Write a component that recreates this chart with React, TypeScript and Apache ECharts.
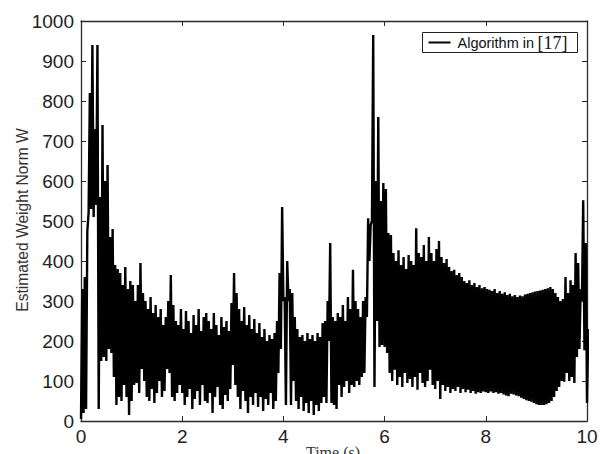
import React, { useEffect, useRef } from "react";
import * as echarts from "echarts";

// Sampling step of the trace (seconds). Each step holds one trough then one crest.
const STEP = 0.05;

// Troughs (at t = i * STEP)
const lows = [
  5, 20, 30, 520, 530, 510, 540, 30, 150, 160,
  150, 180, 170, 110, 40, 60, 50, 90, 60, 15,
  50, 90, 95, 70, 130, 100, 60, 50, 80, 45,
  70, 100, 60, 75, 130, 120, 60, 50, 70, 90,
  70, 40, 60, 80, 30, 55, 75, 40, 90, 50,
  45, 70, 20, 60, 85, 40, 30, 65, 50, 80,
  140, 90, 60, 30, 75, 50, 20, 60, 40, 70,
  35, 60, 25, 55, 40, 70, 30, 50, 120, 180,
  300, 40, 300, 40, 100, 50, 30, 60, 25, 45,
  20, 50, 15, 40, 25, 45, 60, 45, 200, 45,
  40, 30, 90, 60, 85, 100, 70, 90, 85, 100,
  90, 110, 120, 260, 400, 500, 85, 250, 185, 190,
  185, 170, 120, 100, 128, 90, 110, 85, 120, 95,
  105, 85, 110, 78, 120, 95, 85, 100, 128, 90,
  80, 100, 55, 90, 75, 85, 70, 80, 75, 85,
  70, 80, 72, 78, 70, 75, 68, 72, 70, 74,
  72, 70, 74, 70, 72, 68, 70, 66, 64, 62,
  68, 66, 64, 62, 58, 55, 52, 50, 48, 45,
  42, 40, 40, 40, 42, 45, 50, 60, 75, 85,
  100, 98, 120, 100, 110, 95, 160, 180, 300, 177,
  45,
];

// Crests (at t = i * STEP + STEP / 2)
const highs = [
  330, 360, 475, 820, 940, 730, 940, 560, 740, 600,
  640, 460, 480, 390, 380, 370, 340, 385, 330, 350,
  340, 300, 340, 395, 320, 300, 280, 310, 270, 290,
  260, 280, 240, 260, 300, 365, 290, 250, 240, 280,
  230, 275, 250, 220, 265, 240, 280, 225, 260, 270,
  250, 230, 270, 240, 215, 260, 235, 250, 225, 295,
  370, 320, 280, 250, 285, 240, 265, 230, 255, 220,
  245, 210, 230, 200, 215, 205, 220, 250, 370, 535,
  310, 400, 330, 320, 260, 230, 210, 215, 200, 220,
  205, 215, 200, 220, 210, 245, 250, 300, 445, 260,
  250, 270, 260, 290, 250, 310, 280, 378, 300, 280,
  260, 300, 310, 507, 490, 965, 600, 760, 550, 595,
  580, 470, 465, 420, 400, 427, 390, 410, 380, 415,
  400, 390, 482, 420, 410, 440, 400, 460, 420, 400,
  430, 450, 410, 395, 405, 385, 375, 378, 365, 370,
  360, 350, 345, 352, 340, 345, 335, 340, 332, 335,
  330, 328, 325, 330, 320, 325, 318, 322, 315, 318,
  312, 315, 310, 314, 312, 316, 318, 320, 322, 324,
  325, 326, 328, 330, 332, 335, 330, 320, 310, 300,
  305, 360, 320, 352, 340, 420, 395, 330, 552, 445,
  230,
];

const xTicks = [0, 2, 4, 6, 8, 10];
const yTicks = [0, 100, 200, 300, 400, 500, 600, 700, 800, 900, 1000];
const seriesName = "Algorithm in [17]";
const xName = "Time (s)";
const yName = "Estimated Weight Norm W";

const SANS = "'Liberation Sans', Arial, Helvetica, sans-serif";
const SERIF = "'Liberation Serif', 'Times New Roman', serif";
const AXIS = "#2a2a2a";

export default function App() {
  const ref = useRef<HTMLDivElement>(null);

  useEffect(() => {
    if (!ref.current) return;
    const chart = echarts.init(ref.current, undefined, { renderer: "svg" });

    const data: [number, number][] = [];
    for (let i = 0; i < lows.length; i++) {
      data.push([i * STEP, lows[i]]);
      data.push([i * STEP + STEP / 2, highs[i]]);
    }

    const xMin = xTicks[0];
    const xMax = xTicks[xTicks.length - 1];
    const yMin = yTicks[0];
    const yMax = yTicks[yTicks.length - 1];

    const baseX = {
      type: "value" as const,
      min: xMin,
      max: xMax,
      interval: xTicks[1] - xTicks[0],
      splitLine: { show: false },
      axisLine: { show: true, onZero: false, lineStyle: { color: AXIS, width: 1.3 } },
      axisTick: { show: true, inside: true, length: 5, lineStyle: { color: AXIS } },
    };
    const baseY = {
      type: "value" as const,
      min: yMin,
      max: yMax,
      interval: yTicks[1] - yTicks[0],
      splitLine: { show: false },
      axisLine: { show: true, onZero: false, lineStyle: { color: AXIS, width: 1.3 } },
      axisTick: { show: true, inside: true, length: 5, lineStyle: { color: AXIS } },
    };

    chart.setOption({
      animation: false,
      backgroundColor: "#ffffff",
      grid: { left: 81, right: 20, top: 21, bottom: 33 },
      xAxis: [
        {
          ...baseX,
          position: "bottom",
          axisLabel: { color: "#222", fontFamily: SANS, fontSize: 19, margin: 6 },
        },
        { ...baseX, position: "top", axisLabel: { show: false } },
      ],
      yAxis: [
        {
          ...baseY,
          position: "left",
          axisLabel: {
            color: "#222",
            fontFamily: SANS,
            fontSize: 19,
            margin: 7,
            formatter: (v: number) => String(v),
          },
        },
        { ...baseY, position: "right", axisLabel: { show: false } },
      ],
      series: [
        {
          name: seriesName,
          type: "line",
          data,
          showSymbol: false,
          symbol: "none",
          clip: true,
          lineStyle: { color: "#000", width: 2.4 },
          xAxisIndex: 0,
          yAxisIndex: 0,
        },
      ],
      graphic: [
        {
          type: "text",
          x: 22,
          y: 220,
          rotation: Math.PI / 2,
          style: {
            text: yName,
            fontFamily: SANS,
            fontSize: 15.6,
            fill: "#333",
            textAlign: "center",
            textVerticalAlign: "middle",
          },
        },
        {
          type: "text",
          x: 333,
          y: 444,
          style: {
            text: xName,
            fontFamily: SERIF,
            fontSize: 16,
            fill: "#333",
            textAlign: "center",
            textVerticalAlign: "top",
          },
        },
        {
          type: "group",
          left: 422,
          top: 32,
          children: [
            {
              type: "rect",
              shape: { x: 0, y: 0, width: 155, height: 20 },
              style: { fill: "#fff", stroke: "#222", lineWidth: 1 },
            },
            {
              type: "line",
              shape: { x1: 6, y1: 10, x2: 28, y2: 10 },
              style: { stroke: "#000", lineWidth: 2 },
            },
            {
              type: "text",
              x: 35,
              y: 10,
              style: {
                text: "{a|Algorithm in} {b|[17]}",
                textVerticalAlign: "middle",
                rich: {
                  a: { fontFamily: SANS, fontSize: 14.5, fill: "#111" },
                  b: { fontFamily: SERIF, fontSize: 18, fill: "#111" },
                },
              },
            },
          ],
        },
      ],
    });

    return () => chart.dispose();
  }, []);

  return (
    <div
      ref={ref}
      style={{ position: "fixed", left: 0, top: 0, width: 607, height: 454 }}
    />
  );
}
